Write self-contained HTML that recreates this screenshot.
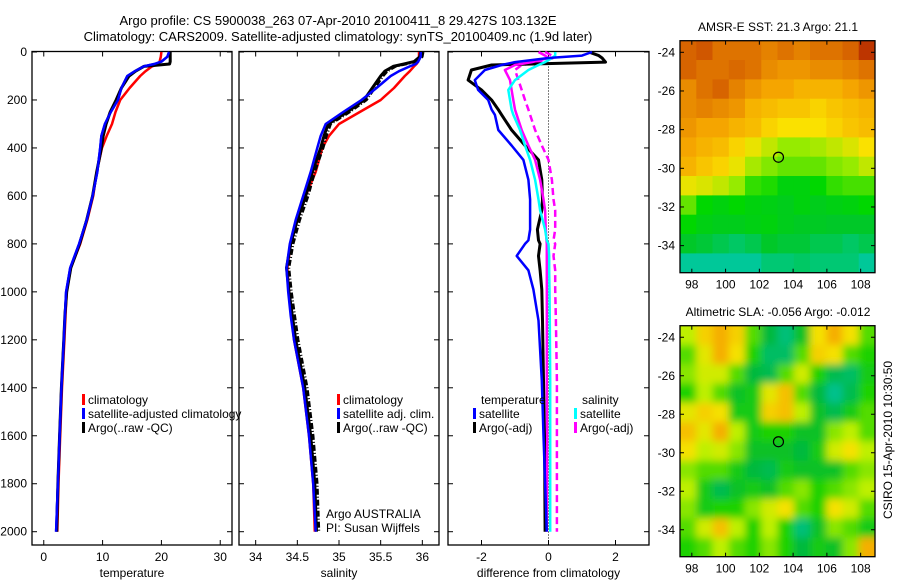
<!DOCTYPE html>
<html><head><meta charset="utf-8">
<style>
body{margin:0;background:#fff;width:900px;height:580px;overflow:hidden}
svg{display:block;font-family:"Liberation Sans",sans-serif;font-size:12px}
</style></head>
<body>
<svg id="fig" width="900" height="580" viewBox="0 0 900 580" xmlns="http://www.w3.org/2000/svg">
<text x="338" y="25" text-anchor="middle" font-size="13">Argo profile: CS 5900038_263 07-Apr-2010 20100411_8 29.427S 103.132E</text>
<text x="338" y="41" text-anchor="middle" font-size="13">Climatology: CARS2009. Satellite-adjusted climatology: synTS_20100409.nc (1.9d later)</text>
<text x="778" y="31" text-anchor="middle">AMSR-E SST: 21.3 Argo: 21.1</text>
<text x="778" y="316" text-anchor="middle">Altimetric SLA: -0.056 Argo: -0.012</text>
<text transform="translate(892,440) rotate(-90)" text-anchor="middle">CSIRO 15-Apr-2010 10:30:50</text>
<g id="root"></g>
</svg>
<script>
// ---------- data ----------
const depths = [0,20,40,50,60,80,100,150,200,250,300,350,400,500,600,700,800,900,1000,1100,1200,1400,1600,1800,2000];
const tempClim = [20.0,19.9,19.7,19.5,18.4,17.3,16.4,14.6,13.0,12.2,11.6,10.7,9.9,9.0,8.4,7.4,6.2,4.6,3.9,3.7,3.5,3.1,2.8,2.5,2.3];
const tempSat  = [21.3,21.0,20.0,18.8,17.0,15.5,14.2,13.2,12.6,11.4,10.4,9.8,9.6,9.1,8.3,7.3,6.0,4.5,3.8,3.6,3.4,3.0,2.7,2.4,2.1];
const tempArgo = [21.5,21.5,21.5,21.4,17.0,15.6,14.5,13.2,12.3,11.3,10.6,10.1,9.8,9.0,8.3,7.3,6.1,4.6,3.9,3.6,3.4,3.0,2.7,2.4,2.2];
const salClim = [35.96,35.96,35.95,35.93,35.9,35.85,35.79,35.66,35.5,35.25,35.0,34.88,34.8,34.72,34.6,34.5,34.42,34.38,34.4,34.43,34.46,34.57,34.64,34.69,34.71];
const salSat  = [35.98,35.98,35.95,35.92,35.85,35.72,35.62,35.45,35.27,35.05,34.84,34.78,34.74,34.66,34.57,34.48,34.41,34.37,34.39,34.42,34.46,34.57,34.64,34.69,34.72];
const salArgo = [35.98,35.97,35.9,35.78,35.65,35.55,35.5,35.4,35.3,35.1,34.87,34.82,34.78,34.68,34.6,34.5,34.42,34.37,34.4,34.44,34.48,34.59,34.66,34.71,34.73];
const diffDepths = [0,15,25,42,54,75,117,158,200,240,262,325,390,450,533,615,660,740,785,800,850,910,990,1120,1370,1600,2000];
const dTempSat  = [1.3,1.0,0.0,-1.0,-1.4,-1.9,-2.2,-2.1,-1.8,-1.7,-1.6,-1.5,-1.1,-0.75,-0.6,-0.55,-0.55,-0.55,-0.6,-0.7,-0.95,-0.6,-0.45,-0.3,-0.2,-0.15,-0.05];
const dTempArgo = [1.2,1.5,1.6,1.7,-1.7,-2.3,-2.4,-2.0,-1.7,-1.5,-1.4,-1.1,-0.7,-0.3,-0.2,-0.18,-0.2,-0.33,-0.3,-0.25,-0.3,-0.25,-0.2,-0.18,-0.15,-0.12,-0.1];
const dSalSat   = [0.2,0.2,0.1,-0.1,-0.3,-0.6,-1.0,-1.2,-1.15,-1.1,-1.05,-0.85,-0.7,-0.55,-0.4,-0.3,-0.25,-0.1,-0.05,0,0.02,0.02,0.03,0.04,0.05,0.05,0.05];
const dSalArgo  = [-0.3,-0.1,0.0,-0.5,-1.0,-1.3,-1.15,-1.1,-1.05,-1.0,-0.95,-0.8,-0.6,-0.4,-0.25,-0.15,-0.1,-0.08,-0.06,-0.05,-0.05,-0.05,-0.05,-0.05,-0.05,-0.04,-0.05];
const dSalRaw   = [-0.1,0.1,0.15,-0.3,-0.8,-1.0,-0.9,-0.8,-0.7,-0.6,-0.55,-0.4,-0.2,0.0,0.1,0.15,0.2,0.2,0.15,0.2,0.15,0.2,0.2,0.22,0.25,0.25,0.25];
const depthTicks = [0,200,400,600,800,1000,1200,1400,1600,1800,2000];
const tempTicks = [0,10,20,30];
const salTicks = [34,34.5,35,35.5,36];
const diffTicks = [-2,0,2];
const lonTicks = [98,100,102,104,106,108];
const latTicks = [-24,-26,-28,-30,-32,-34];
const sstGrid = [
[0.88,0.9,0.85,0.85,0.85,0.82,0.85,0.82,0.85,0.85,0.88,0.95],
[0.88,0.85,0.85,0.87,0.85,0.8,0.78,0.78,0.8,0.8,0.82,0.85],
[0.8,0.85,0.88,0.82,0.78,0.75,0.75,0.72,0.72,0.72,0.75,0.78],
[0.8,0.82,0.8,0.78,0.72,0.7,0.68,0.68,0.65,0.68,0.7,0.72],
[0.78,0.75,0.75,0.72,0.7,0.65,0.62,0.62,0.62,0.65,0.68,0.7],
[0.75,0.72,0.7,0.65,0.6,0.55,0.5,0.5,0.52,0.55,0.58,0.62],
[0.72,0.68,0.65,0.6,0.52,0.48,0.45,0.45,0.45,0.48,0.5,0.55],
[0.6,0.58,0.55,0.5,0.4,0.38,0.3,0.3,0.35,0.4,0.42,0.42],
[0.45,0.35,0.3,0.35,0.3,0.28,0.25,0.3,0.25,0.28,0.3,0.35],
[0.35,0.28,0.25,0.25,0.28,0.3,0.25,0.22,0.22,0.2,0.2,0.2],
[0.2,0.18,0.15,0.12,0.15,0.2,0.18,0.18,0.15,0.15,0.12,0.15],
[0.05,0.05,0.05,0.05,0.05,0.1,0.1,0.12,0.1,0.1,0.1,0.05]];
const slaGrid = [
[0.55,0.75,0.85,0.75,0.45,0.25,0.1,0.3,0.7,0.85,0.7,0.45],
[0.45,0.65,0.85,0.7,0.4,0.15,0.15,0.45,0.75,0.7,0.45,0.4],
[0.5,0.6,0.6,0.45,0.25,0.2,0.45,0.6,0.4,0.2,0.15,0.35],
[0.4,0.55,0.45,0.3,0.35,0.65,0.8,0.45,0.25,0.05,0.2,0.4],
[0.65,0.75,0.7,0.35,0.35,0.75,0.8,0.55,0.3,0.2,0.35,0.45],
[0.8,0.65,0.85,0.55,0.35,0.4,0.4,0.3,0.3,0.5,0.55,0.45],
[0.7,0.55,0.6,0.5,0.3,0.3,0.3,0.25,0.35,0.6,0.7,0.55],
[0.5,0.45,0.45,0.35,0.25,0.2,0.35,0.3,0.3,0.3,0.45,0.5],
[0.55,0.35,0.2,0.3,0.35,0.3,0.45,0.5,0.4,0.45,0.5,0.55],
[0.5,0.35,0.4,0.4,0.5,0.6,0.7,0.45,0.4,0.7,0.6,0.45],
[0.45,0.6,0.8,0.55,0.4,0.55,0.4,0.1,0.3,0.5,0.45,0.35],
[0.4,0.45,0.55,0.45,0.4,0.5,0.4,0.25,0.35,0.3,0.5,0.85]];
const floatLon = 103.132, floatLat = -29.427;

// ---------- helpers ----------
const NS="http://www.w3.org/2000/svg";
const root=document.getElementById('root');
function mk(tag,attrs,parent){const e=document.createElementNS(NS,tag);for(const k in attrs)e.setAttribute(k,attrs[k]);(parent||root).appendChild(e);return e;}
const Y0=52, Y2000=531.7;
function dy(d){return Y0+d*(Y2000-Y0)/2000;}
function lin(d0,d1,r0,r1){return v=>r0+(v-d0)*(r1-r0)/(d1-d0);}

function panel(name,x0,x1,xmin,xmax,ticks,label,showY){
  const g=mk('g',{});
  
  
  const bx=mk('rect',{x:x0,y:51.5,width:x1-x0,height:545-51.5,fill:'none',stroke:'#000','stroke-width':1.3},g);
  
  
  const sx=lin(xmin,xmax,x0,x1);
  ticks.forEach(t=>{
    const x=sx(t);
    mk('line',{x1:x,x2:x,y1:545,y2:540,stroke:'#000'},g);
    mk('line',{x1:x,x2:x,y1:51.5,y2:56.5,stroke:'#000'},g);
    const tl=mk('text',{x:x,y:561,'text-anchor':'middle'},g);tl.textContent=t;
    
    
  });
  depthTicks.forEach(d=>{
    const y=dy(d);
    mk('line',{x1:x0,x2:x0+5,y1:y,y2:y,stroke:'#000'},g);
    mk('line',{x1:x1,x2:x1-5,y1:y,y2:y,stroke:'#000'},g);
    if(showY){const tl=mk('text',{x:x0-5,y:y+4,'text-anchor':'end'},g);tl.textContent=d;
      
      }
  });
  const xl=mk('text',{x:(x0+x1)/2,y:577,'text-anchor':'middle'},g);xl.textContent=label;
  
  
  return {g,sx};
}
function line(p,vals,dps,color,name,w,dash){
  const pts=vals.map((v,i)=>p.sx(v).toFixed(1)+','+dy(dps[i]).toFixed(1)).join(' ');
  const a={points:pts,fill:'none',stroke:color,'stroke-width':w||2.5,'stroke-linejoin':'round'};
  if(dash)a['stroke-dasharray']=dash;
  const e=mk('polyline',a,p.g);
  
  
}
function legend(g,x,y,color,text,name){
  const r=mk('rect',{x:x,y:y-10,width:3,height:11,fill:color},g);
  
  
  const t=mk('text',{x:x+6,y:y},g);t.textContent=text;
  
  
}
function txt(g,x,y,s,name){const t=mk('text',{x:x,y:y},g);t.textContent=s;
  
  }

// ---------- temperature panel ----------
const pT=panel('temperature-panel',32,232,-2,32,tempTicks,'temperature',true);
line(pT,tempClim,depths,'#f00','temperature-climatology-line');
line(pT,tempSat,depths,'#00f','temperature-satellite-line');
line(pT,tempArgo,depths,'#000','temperature-argo-line',3);
line(pT,tempSat,depths,'#00f','temperature-satellite-line-top',2.5);
legend(pT.g,82,404,'#f00','climatology','legend-climatology');
legend(pT.g,82,418,'#00f','satellite-adjusted climatology','legend-satellite');
legend(pT.g,82,432,'#000','Argo(..raw -QC)','legend-argo');

// ---------- salinity panel ----------
const pS=panel('salinity-panel',239,439,33.8,36.2,salTicks,'salinity',false);
line(pS,salClim,depths,'#f00','salinity-climatology-line');
line(pS,salArgo.map(v=>v+0.03),depths,'#000','salinity-argo-raw-line',2.5,'6,2,1,2');
line(pS,salArgo,depths,'#000','salinity-argo-line',3);
line(pS,salSat,depths,'#00f','salinity-satellite-line');
legend(pS.g,337,404,'#f00','climatology','legend-climatology');
legend(pS.g,337,418,'#00f','satellite adj. clim.','legend-satellite');
legend(pS.g,337,432,'#000','Argo(..raw -QC)','legend-argo');
txt(pS.g,326,518,'Argo AUSTRALIA','argo-australia-label');
txt(pS.g,326,532,'PI: Susan Wijffels','pi-label');

// ---------- difference panel ----------
const pD=panel('difference-panel',448,649,-3,3,diffTicks,'difference from climatology',false);
const zl=mk('line',{x1:pD.sx(0),x2:pD.sx(0),y1:51.5,y2:545,stroke:'#000','stroke-dasharray':'1,2'},pD.g);


line(pD,dSalRaw,diffDepths,'#f0f','salinity-argo-raw-diff-line',2.5,'7,4');
line(pD,dTempArgo,diffDepths,'#000','temperature-argo-diff-line',3);
line(pD,dSalArgo,diffDepths,'#f0f','salinity-argo-diff-line');
line(pD,dSalSat,diffDepths,'#0ff','salinity-satellite-diff-line');
line(pD,dTempSat,diffDepths,'#00f','temperature-satellite-diff-line');
txt(pD.g,481,404,'temperature','legend-temperature-heading');
legend(pD.g,473,418,'#00f','satellite','legend-temp-satellite');
legend(pD.g,473,432,'#000','Argo(-adj)','legend-temp-argo');
txt(pD.g,582,404,'salinity','legend-salinity-heading');
legend(pD.g,574,418,'#0ff','satellite','legend-sal-satellite');
legend(pD.g,574,432,'#f0f','Argo(-adj)','legend-sal-argo');

// ---------- maps ----------
function interp(stops,v){v=Math.max(0,Math.min(1,v));
  for(let i=1;i<stops.length;i++){if(v<=stops[i][0]){const a=stops[i-1],b=stops[i],t=(v-a[0])/(b[0]-a[0]);
    return 'rgb('+[1,2,3].map(k=>Math.round(a[k]+(b[k]-a[k])*t)).join(',')+')';}}
  const l=stops[stops.length-1];return 'rgb('+l[1]+','+l[2]+','+l[3]+')';}
const sstStops=[[0,0,200,190],[0.2,0,200,40],[0.35,0,215,0],[0.5,150,235,0],[0.62,250,225,0],[0.75,245,165,0],[0.88,215,100,0],[1,170,20,0]];
const slaStops=[[0,0,195,160],[0.25,0,185,60],[0.4,30,210,0],[0.55,190,240,0],[0.7,245,225,0],[0.85,245,175,0],[1,240,150,0]];
function map(name,grid,stops,top,bottom,blur){
  const x0=680,x1=875;
  const g=mk('g',{});
  
  
  const sx=lin(97.3,108.85,x0,x1), sy=lin(-23.4,-35.4,top,bottom);
  const cid=name+'-clip';
  const cp=mk('clipPath',{id:cid},g);mk('rect',{x:x0,y:top,width:x1-x0,height:bottom-top},cp);
  const cg=mk('g',{'clip-path':'url(#'+cid+')'},g);
  const inner=mk('g',blur?{filter:'url(#'+name+'-blur)'}:{},cg);
  if(blur){const f=mk('filter',{id:name+'-blur',x:'-10%',y:'-10%',width:'120%',height:'120%'},g);mk('feGaussianBlur',{stdDeviation:4},f);}
  const nr=grid.length,nc=grid[0].length;
  const lonStep=(108.85-97.3)/nc, latStep=12/nr;
  for(let r=0;r<nr;r++)for(let c=0;c<nc;c++){
    const la=-23.4-r*latStep, lo=97.3+c*lonStep;
    const pad=blur?12:0;
    const xa=sx(lo)-(c==0?pad:0), ya=sy(la)-(r==0?pad:0);
    const cell=mk('rect',{x:xa.toFixed(1),y:ya.toFixed(1),width:(sx(lo+lonStep)-sx(lo)+0.6+(c==0||c==nc-1?pad:0)).toFixed(1),height:(sy(la-latStep)-sy(la)+0.6+(r==0||r==nr-1?pad:0)).toFixed(1),fill:interp(stops,grid[r][c])},inner);
    
    
  }
  const fr=mk('rect',{x:x0,y:top,width:x1-x0,height:bottom-top,fill:'none',stroke:'#000','stroke-width':1.3},g);
  
  
  lonTicks.forEach(t=>{const x=sx(t);
    mk('line',{x1:x,x2:x,y1:bottom,y2:bottom-4,stroke:'#000'},g);
    mk('line',{x1:x,x2:x,y1:top,y2:top+4,stroke:'#000'},g);
    const tl=mk('text',{x:x,y:bottom+16,'text-anchor':'middle'},g);tl.textContent=t;
    
    });
  latTicks.forEach(t=>{const y=sy(t);
    mk('line',{x1:x0,x2:x0+4,y1:y,y2:y,stroke:'#000'},g);
    mk('line',{x1:x1,x2:x1-4,y1:y,y2:y,stroke:'#000'},g);
    const tl=mk('text',{x:x0-5,y:y+4,'text-anchor':'end'},g);tl.textContent=t;
    
    });
  const m=mk('circle',{cx:sx(floatLon),cy:sy(floatLat),r:5,fill:'none',stroke:'#000','stroke-width':1.2},g);
  
  
}
map('sst-map',sstGrid,sstStops,40.7,272.7,false);
map('sla-map',slaGrid,slaStops,325.7,556.7,true);
</script>
</body></html>
